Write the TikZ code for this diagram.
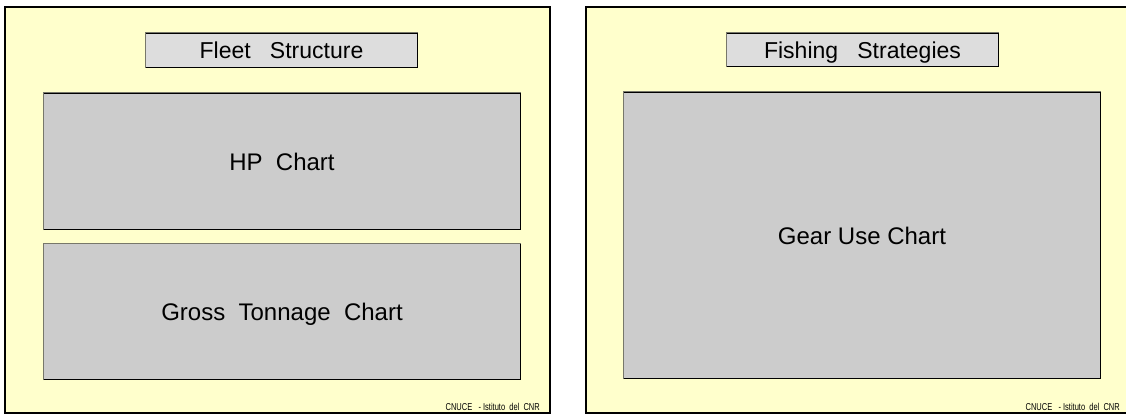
\documentclass[tikz,border=0pt]{standalone}
\usepackage{fontspec}
\setmainfont{Liberation Sans}
\usepackage{graphicx}
\definecolor{panelfill}{HTML}{FFFFCC}
\definecolor{chartfill}{HTML}{CCCCCC}
\definecolor{titlefill}{HTML}{DDDDDD}
\definecolor{edgegray}{HTML}{77776A}
\begin{document}
\begin{tikzpicture}[x=1pt,y=-1pt,
  panel/.style={draw=black,line width=2pt,fill=panelfill,inner sep=0pt,anchor=north west},
  chartbox/.style={draw=black,line width=1pt,fill=chartfill,inner sep=0pt,anchor=north west,text height=17.2pt,text depth=0pt,font=\fontsize{24}{28}\selectfont},
  titlebox/.style={draw=black,line width=1pt,fill=titlefill,inner sep=0pt,anchor=north west,text height=16.5pt,text depth=0pt,font=\fontsize{23}{27}\selectfont},
  foot/.style={anchor=base east,inner sep=0pt,font=\fontsize{10}{12}\selectfont},
  bevel/.style={draw=edgegray,line width=1pt}]
\useasboundingbox (0,0) rectangle (1126,414);
\clip (0,0) rectangle (1126,414);
% left panel
\node[panel,minimum width=545pt,minimum height=406pt] (lp) at (4,6) {};
\node[titlebox,minimum width=272pt,minimum height=34pt] (lt) at (145,33) {Fleet\ \ \ Structure};
\node[chartbox,minimum width=477pt,minimum height=136pt] (hp) at (43,93) {HP\ \ Chart};
\node[chartbox,minimum width=477pt,minimum height=136pt] (gt) at (43,243) {Gross\ \ Tonnage\ \ Chart};
\node[foot] (lf) at (540,410) {\scalebox{0.75}[1]{CNUCE\ \ \ -\ Istituto\ \ del\ \ CNR}};
% right panel
\node[panel,minimum width=545pt,minimum height=406pt] (rp) at (585,6) {};
\node[titlebox,minimum width=272pt,minimum height=33pt] (rt) at (726,33) {Fishing\ \ \ Strategies};
\node[chartbox,minimum width=477pt,minimum height=286pt] (gu) at (623,92) {Gear Use Chart};
\node[foot] (rf) at (1120,410) {\scalebox{0.75}[1]{CNUCE\ \ \ -\ Istituto\ \ del\ \ CNR}};
% bevel edges (top and left of inset boxes)
\foreach \b in {lt,hp,gt,rt,gu}{
  \draw[bevel] (\b.south west) -- (\b.north west) -- (\b.north east);
}
\end{tikzpicture}
\end{document}
